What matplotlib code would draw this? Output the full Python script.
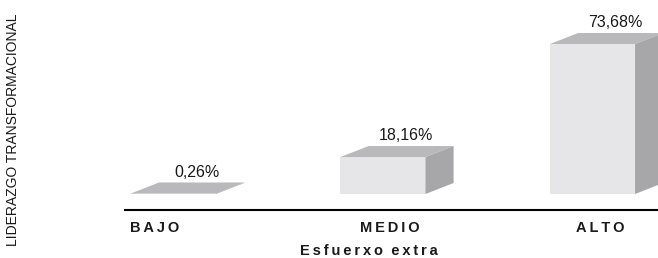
import matplotlib
matplotlib.use("Agg")
import matplotlib.pyplot as plt
from matplotlib.patches import Polygon
import matplotlib.transforms as mtransforms

categories = ["BAJO", "MEDIO", "ALTO"]
values = [0.26, 18.16, 73.68]
value_labels = ["0,26%", "18,16%", "73,68%"]
x_title = "Esfuerxo extra"
y_title = "LIDERAZGO TRANSFORMACIONAL"

# style
FRONT = "#e6e6e8"
TOP = "#b9b9bb"
SIDE = "#a7a7a9"
bar_w = 0.406
dx = 0.134   # depth in category units
dy = 5.4     # depth in percent units
label_dx = [-0.088, 0.033, 0.036]  # category label offsets

plt.rcParams["font.family"] = ["Liberation Sans", "DejaVu Sans"]

fig = plt.figure(figsize=(6.58, 2.58), dpi=100)
ax = fig.add_axes([125 / 658, 48 / 258, 533 / 658, 210 / 258])
ax.set_xlim(-0.2315, 2.3126)
ax.set_ylim(-7.86, 95.3)

xs = list(range(len(categories)))
ax.bar(xs, values, width=bar_w, color=FRONT, bottom=0, zorder=2, linewidth=0)
for x, v in zip(xs, values):
    l, r = x - bar_w / 2, x + bar_w / 2
    top = Polygon([(l, v), (r, v), (r + dx, v + dy), (l + dx, v + dy)],
                  closed=True, facecolor=TOP, edgecolor="none", zorder=3, clip_on=False)
    side = Polygon([(r, 0), (r + dx, dy), (r + dx, v + dy), (r, v)],
                   closed=True, facecolor=SIDE, edgecolor="none", zorder=3, clip_on=False)
    ax.add_patch(top)
    ax.add_patch(side)

for x, v, t in zip(xs, values, value_labels):
    ax.text(x + 0.11, v + dy + 2.8, t, ha="center", va="baseline", fontsize=11.5,
            color="#1a1a1a")

for sp in ["top", "right", "left"]:
    ax.spines[sp].set_visible(False)
ax.spines["bottom"].set_linewidth(1.5)
ax.spines["bottom"].set_color("black")
ax.set_xticks([])
ax.set_yticks([])

trans = mtransforms.blended_transform_factory(ax.transData, fig.transFigure)
for x, c, off in zip(xs, categories, label_dx):
    ax.text(x + off, 1 - 232 / 258, "\u2009".join(c), transform=trans, ha="center",
            va="baseline", fontsize=10.5, fontweight="bold", color="#1a1a1a")

fig.text(369 / 658, 1 - 255 / 258, "\u2009".join(x_title).replace("\u2009 \u2009", "  "),
         ha="center", va="baseline", fontsize=10.5, fontweight="bold", color="#1a1a1a")

fig.text(13 / 658 + 0.0, 128 / 258, y_title, rotation=90, ha="center", va="center",
         fontsize=10, color="#1a1a1a")

fig.savefig("out.png", dpi=100)
